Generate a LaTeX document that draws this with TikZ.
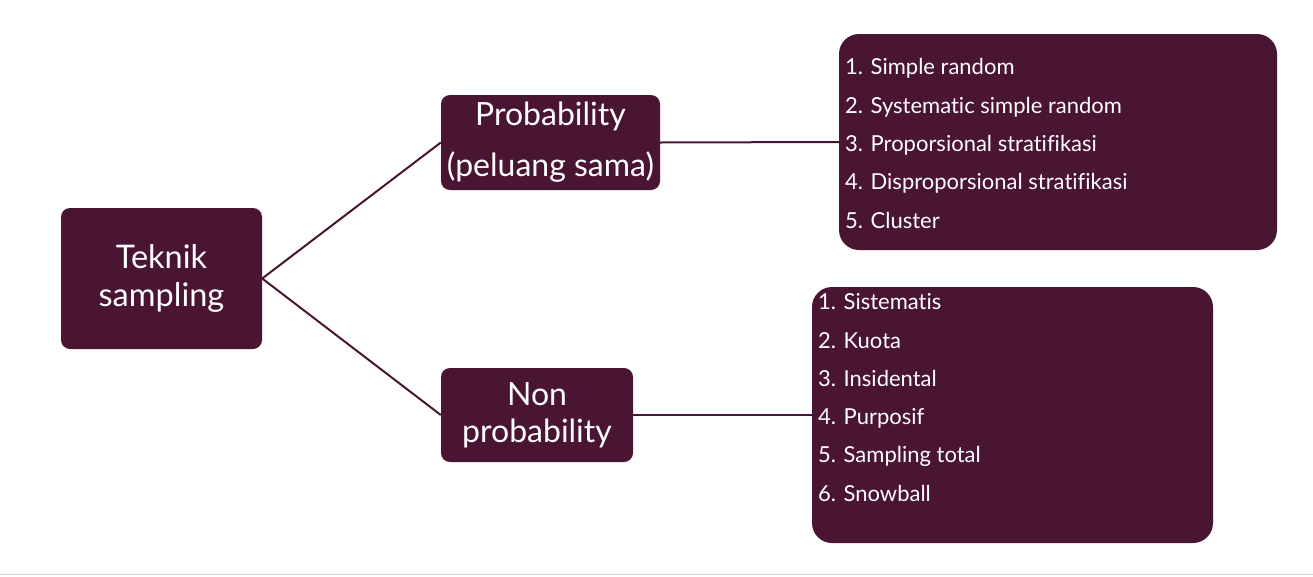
\documentclass[tikz,border=0pt]{standalone}
\usepackage{fontspec}
\setmainfont[RawFeature={-liga;-dlig;-calt}]{Lato}
\definecolor{maroon}{HTML}{4A1532}
\begin{document}
\begin{tikzpicture}[x=1pt,y=-1pt,
  box/.style={fill=maroon, rounded corners=9pt, inner sep=0pt, text=white, align=center},
  bigbox/.style={fill=maroon, rounded corners=20pt, inner sep=0pt},
  listtext/.style={text=white, align=left, inner sep=0pt, anchor=north west, font=\fontsize{22}{38.3}\selectfont},
  link/.style={draw=maroon, line width=2pt}]
\useasboundingbox (0,0) rectangle (1313,576);
\draw[gray!35, line width=1.5pt] (0,574.5) -- (1313,574.5);
\node[box, minimum width=201pt, minimum height=141pt, font=\fontsize{32.5}{38}\selectfont] (tek) at (161.5,278.5) {Teknik\\sampling};
\node[box, minimum width=219pt, minimum height=95pt, font=\fontsize{32}{51}\selectfont] (prob) at (550.5,142.5) {Probability\\(peluang sama)};
\node[box, minimum width=192pt, minimum height=94pt, font=\fontsize{32}{37}\selectfont] (nonp) at (537,415) {Non\\probability};
\node[bigbox, minimum width=438pt, minimum height=216pt] (plist) at (1058,142) {};
\node[bigbox, minimum width=401pt, minimum height=256pt] (nlist) at (1012.5,415) {};
\node[listtext] (ptext) at (845,58.5) {1. Simple random\\2. Systematic simple random\\3. Proporsional stratifikasi\\4. Disproporsional stratifikasi\\5. Cluster};
\node[listtext] (ntext) at (818,293.5) {1. Sistematis\\2. Kuota\\3. Insidental\\4. Purposif\\5. Sampling total\\6. Snowball};
\draw[link] (tek.east) -- (prob.west);
\draw[link] (tek.east) -- (nonp.west);
\draw[link] (prob.east) -- (plist.west);
\draw[link] (nonp.east) -- (nlist.west);
\end{tikzpicture}
\end{document}
